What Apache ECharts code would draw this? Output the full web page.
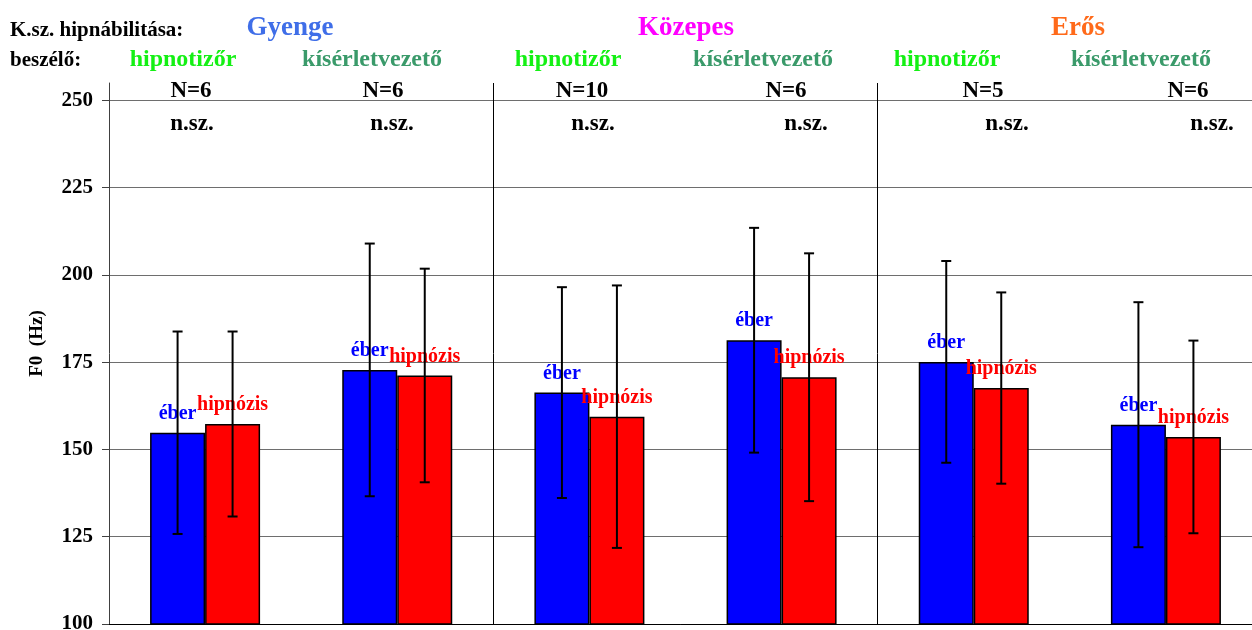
<!DOCTYPE html>
<html>
<head>
<meta charset="utf-8">
<script src="https://cdn.jsdelivr.net/npm/echarts@6/dist/echarts.min.js"></script>
<style>
  html, body { margin: 0; padding: 0; background: #fff; }
  #chart { width: 1252px; height: 630px; }
</style>
</head>
<body>
<div id="chart"></div>
<script>
// F0 means (Hz) per subject group, awake vs. hypnosis, with SD whiskers
const groups = ['Gyenge / hipnotizőr', 'Gyenge / kísérletvezető', 'Közepes / hipnotizőr',
                'Közepes / kísérletvezető', 'Erős / hipnotizőr', 'Erős / kísérletvezető'];
const eberMean = [154.8, 172.8, 166.3, 181.3, 175.1, 157.1];
const eberSD = [29.0, 36.2, 30.2, 32.2, 28.9, 35.1];
const hipnozisMean = [157.3, 171.2, 159.4, 170.7, 167.6, 153.6];
const hipnozisSD = [26.5, 30.6, 37.6, 35.5, 27.4, 27.6];

const levelNames = ['Gyenge', 'Közepes', 'Erős'];
const speakerNames = ['hipnotizőr', 'kísérletvezető', 'hipnotizőr', 'kísérletvezető', 'hipnotizőr', 'kísérletvezető'];
const nLabels = ['N=6', 'N=6', 'N=10', 'N=6', 'N=5', 'N=6'];
const sigLabels = ['n.sz.', 'n.sz.', 'n.sz.', 'n.sz.', 'n.sz.', 'n.sz.'];
const yTicks = [100, 125, 150, 175, 200, 225, 250];

// layout / styling
const FONT = "'Liberation Serif', 'Times New Roman', serif";
const BAR_W = 55;
const levelX = [290, 686, 1078];
const levelColors = ['#3f6ee8', '#ff00ff', '#ff6a1a'];
const speakerX = [183, 372, 568, 763, 947, 1141];
const speakerColors = ['#14f014', '#3a9a6a'];
const nX = [191, 383, 582, 786, 983, 1188];
const sigX = [192, 392, 593, 806, 1007, 1212];

const chart = echarts.init(document.getElementById('chart'), null, { renderer: 'canvas' });

function txt(text, x, y, size, color, align) {
  return {
    type: 'text', x: x, y: y, silent: true,
    style: { text: text, fill: color, font: 'bold ' + size + 'px ' + FONT,
             align: align || 'center', verticalAlign: 'middle' }
  };
}

const graphics = [
  txt('K.sz. hipnábilitása:', 10, 31, 21, '#000', 'left'),
  txt('beszélő:', 10, 61, 21, '#000', 'left')
];
levelNames.forEach((t, i) => graphics.push(txt(t, levelX[i], 28, 27, levelColors[i])));
speakerNames.forEach((t, i) => graphics.push(txt(t, speakerX[i], 60, 24, speakerColors[i % 2])));
nLabels.forEach((t, i) => graphics.push(txt(t, nX[i], 91, 23, '#000')));
sigLabels.forEach((t, i) => graphics.push(txt(t, sigX[i], 124, 23, '#000')));

const errData = [];
groups.forEach((g, i) => {
  errData.push([i, eberMean[i], eberSD[i], -1]);
  errData.push([i, hipnozisMean[i], hipnozisSD[i], 1]);
});

const clear = 'rgba(0,0,0,0)';

chart.setOption({
  animation: false,
  backgroundColor: '#fff',
  grid: { left: 109, width: 1153, top: 83, height: 541, containLabel: false, outerBoundsMode: 'none' },
  xAxis: {
    type: 'category',
    data: groups,
    axisLabel: { show: false },
    axisTick: { show: false },
    axisLine: { show: true, onZero: false, lineStyle: { color: '#000', width: 1 } },
    splitLine: {
      show: true,
      lineStyle: { color: [clear, clear, '#000', clear, '#000', clear, clear], width: 1 }
    }
  },
  yAxis: {
    type: 'value',
    min: 100, max: 255, interval: 25,
    name: 'F0  (Hz)',
    nameLocation: 'middle',
    nameGap: 62,
    nameTextStyle: { fontFamily: FONT, fontWeight: 'bold', fontSize: 19, color: '#000', padding: [0, 0, 0, 20] },
    axisLine: { show: true, lineStyle: { color: '#404040', width: 1 } },
    axisTick: { show: true, inside: false, length: 7, customValues: yTicks, lineStyle: { color: '#404040' } },
    axisLabel: { customValues: yTicks, margin: 16, fontFamily: FONT, fontWeight: 'bold', fontSize: 21, color: '#000' },
    splitLine: { show: true, lineStyle: { color: '#6e6e6e', width: 1 } }
  },
  graphic: graphics,
  series: [
    {
      name: 'éber', type: 'bar', data: eberMean, barWidth: BAR_W, barGap: '0%',
      itemStyle: { color: '#0000ff', borderColor: '#000', borderWidth: 1.5 },
      label: { show: true, position: 'top', distance: 9, formatter: 'éber',
               fontFamily: FONT, fontWeight: 'bold', fontSize: 20, color: '#0000ff' },
      z: 2
    },
    {
      name: 'hipnózis', type: 'bar', data: hipnozisMean, barWidth: BAR_W,
      itemStyle: { color: '#ff0000', borderColor: '#000', borderWidth: 1.5 },
      label: { show: true, position: 'top', distance: 9, formatter: 'hipnózis',
               fontFamily: FONT, fontWeight: 'bold', fontSize: 20, color: '#ff0000' },
      z: 2
    },
    {
      name: 'SD', type: 'custom', data: errData, z: 5, silent: true,
      encode: { x: 0, y: 1 },
      renderItem: function (params, api) {
        const cat = api.value(0), mean = api.value(1), sd = api.value(2), side = api.value(3);
        const x = api.coord([cat, mean])[0] + side * BAR_W / 2;
        const yTop = api.coord([cat, mean + sd])[1];
        const yBot = api.coord([cat, mean - sd])[1];
        const st = { stroke: '#000', lineWidth: 2 };
        return {
          type: 'group',
          children: [
            { type: 'line', shape: { x1: x, y1: yTop, x2: x, y2: yBot }, style: st },
            { type: 'line', shape: { x1: x - 5, y1: yTop, x2: x + 5, y2: yTop }, style: st },
            { type: 'line', shape: { x1: x - 5, y1: yBot, x2: x + 5, y2: yBot }, style: st }
          ]
        };
      }
    }
  ]
});
</script>
</body>
</html>
